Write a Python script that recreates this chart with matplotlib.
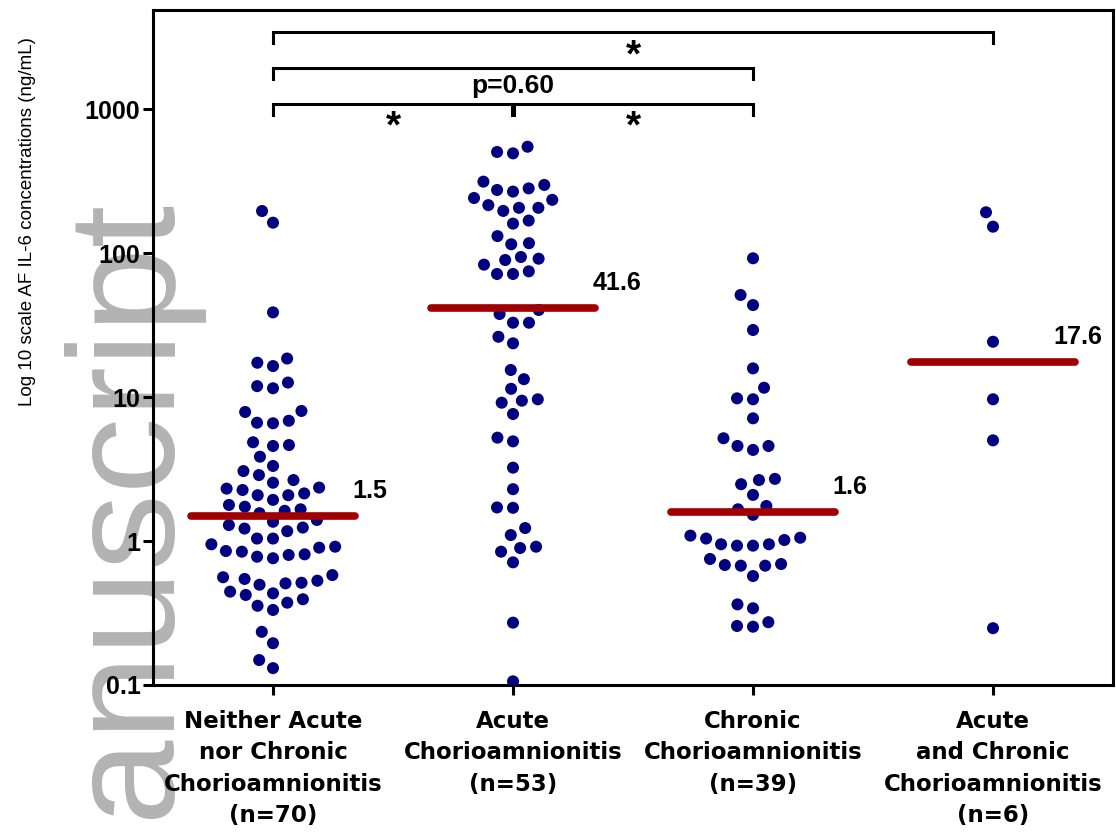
import numpy as np
import matplotlib
matplotlib.use('Agg')
import matplotlib.pyplot as plt
from matplotlib import font_manager

# AF IL-6 (ng/mL), one list per group
neither = [195.7, 162.4, 38.7, 18.5, 16.4, 17.3, 11.9, 11.5, 12.6, 8.0,
           7.87, 6.84, 6.57, 6.63, 4.85, 4.57, 4.64, 3.85, 3.32, 2.87,
           3.06, 2.54, 2.65, 2.31, 2.14, 2.08, 2.08, 2.26, 2.35, 1.93,
           1.78, 1.66, 1.56, 1.62, 1.73, 1.36, 1.40, 1.29, 1.22, 1.17,
           1.24, 1.04, 1.04, 0.949, 0.899, 0.843, 0.80, 0.759, 0.778, 0.808,
           0.852, 0.913, 0.58, 0.545, 0.513, 0.497, 0.445, 0.508, 0.53, 0.56,
           0.422, 0.373, 0.332, 0.355, 0.394, 0.433, 0.234, 0.195, 0.131, 0.149]
acute = [547, 492, 503, 274, 313, 297, 267, 281, 241, 234,
         206, 215, 196, 206, 168, 160, 131, 115, 117, 91.3,
         83, 71.5, 71.5, 74.6, 89.4, 93.8, 37.7, 40.2, 32.8, 32.8,
         26.2, 23.6, 15.4, 13.3, 11.4, 9.43, 9.13, 9.64, 7.62, 5.22,
         4.92, 3.23, 2.29, 1.70, 1.71, 1.23, 1.10, 0.894, 0.843, 0.913,
         0.711, 0.271, 0.106]
chronic = [91.9, 51.1, 43.5, 29.2, 15.8, 11.6, 9.64, 9.79, 7.11, 5.17,
           4.57, 4.29, 4.57, 2.70, 2.48, 2.09, 2.65, 1.75, 1.52, 1.66,
           1.09, 1.04, 0.949, 0.928, 0.928, 0.949, 1.016, 1.054, 0.692, 0.674,
           0.571, 0.674, 0.681, 0.75, 0.363, 0.341, 0.273, 0.254, 0.257]
both = [191.7, 152.3, 24.2, 9.64, 5.0, 0.248]

groups = [neither, acute, chronic, both]
medians = [1.5, 41.6, 1.6, 17.6]
median_labels = ['1.5', '41.6', '1.6', '17.6']
group_labels = ['Neither Acute\nnor Chronic\nChorioamnionitis\n(n=70)',
                'Acute\nChorioamnionitis\n(n=53)',
                'Chronic\nChorioamnionitis\n(n=39)',
                'Acute\nand Chronic\nChorioamnionitis\n(n=6)']
yticks = [0.1, 1, 10, 100, 1000]
ytick_labels = ['0.1', '1', '10', '100', '1000']

# comparisons: (group a, group b, label)
comparisons = [(1, 4, '*'), (1, 3, 'p=0.60'), (1, 2, '*'), (2, 3, '*')]

fig = plt.figure(figsize=(11.16, 8.34), dpi=100)
ax = fig.add_axes([153 / 1116, 149 / 834, 960 / 1116, 675 / 834])
ax.patch.set_alpha(0)

ax.set_yscale('log')
ax.set_ylim(0.1, 4870)
ax.set_xlim(0.5, 4.5)


def swarm(ypix, d):
    # simple beeswarm in pixel space, returns x offsets in pixels
    xs = np.zeros(len(ypix))
    placed = []
    for i in np.argsort(ypix):
        y = ypix[i]
        near = [(px, py) for px, py in placed if abs(py - y) < d]
        cands = [0.0]
        for px, py in near:
            dx = np.sqrt(d * d - (py - y) ** 2)
            cands += [px + dx, px - dx]
        cands.sort(key=lambda c: (abs(c), c))
        for c in cands:
            if all((c - px) ** 2 + (y - py) ** 2 >= d * d - 1e-6 for px, py in near):
                xs[i] = c
                break
        placed.append((xs[i], y))
    return xs


px_per_unit = ax.transData.transform((1, 1))[0] - ax.transData.transform((0, 1))[0]
for k, vals in enumerate(groups):
    pos = k + 1
    vals = np.array(vals)
    ypix = ax.transData.transform(np.column_stack([np.full(len(vals), pos), vals]))[:, 1]
    off = swarm(ypix, 16.0) / px_per_unit
    ax.scatter(pos + off, vals, s=75, color='#000080', edgecolors='none', zorder=3)
    ax.plot([pos - 0.34, pos + 0.34], [medians[k], medians[k]], color='#a00000',
            lw=5.5, solid_capstyle='round', zorder=4)
    dx = 0.33 if pos < 4 else 0.25
    ax.annotate(median_labels[k], (pos + dx, medians[k]), xytext=(0, 18),
                textcoords='offset points', ha='left', va='center',
                fontsize=18, fontweight='bold', family='Liberation Sans')

# significance brackets
trans = ax.get_xaxis_transform()
bracket_y = [0.967, 0.914, 0.861, 0.861]
label_y = [0.931, 0.888, 0.826, 0.826]
for (a, b, lab), yb, yl in zip(comparisons, bracket_y, label_y):
    a2 = a + 0.005 if a == 2 else a
    b2 = b - 0.005 if b == 2 else b
    ax.plot([a2, a2, b2, b2], [yb - 0.016, yb, yb, yb - 0.016], color='black',
            lw=2.2, transform=trans, clip_on=False, solid_joinstyle='miter')
    if lab == '*':
        ax.text((a + b) / 2, yl, lab, transform=trans, ha='center', va='center',
                fontsize=28, fontweight='bold', family='Liberation Sans')
    else:
        ax.text((a + b) / 2, yl, lab, transform=trans, ha='center', va='center',
                fontsize=19, fontweight='bold', family='Liberation Sans')

for sp in ax.spines.values():
    sp.set_linewidth(2.2)
ax.set_yticks(yticks)
ax.set_yticklabels(ytick_labels)
ax.yaxis.set_minor_locator(matplotlib.ticker.NullLocator())
ax.set_xticks([1, 2, 3, 4])
ax.set_xticklabels(group_labels, linespacing=1.47)
ax.tick_params(axis='y', length=7, width=2.2, pad=2, labelsize=18)
ax.tick_params(axis='x', length=7, width=2.2, pad=11, labelsize=16.5)
for t in ax.get_yticklabels():
    t.set_family('Liberation Sans')
    t.set_fontweight('bold')
for t in ax.get_xticklabels():
    t.set_family('DejaVu Sans')
    t.set_fontweight('bold')

# the y title is set in a narrow face in the original
names = {f.name for f in font_manager.fontManager.ttflist}
if 'Liberation Sans Narrow' in names:
    lab_font, lab_size = 'Liberation Sans Narrow', 16.5
else:
    lab_font, lab_size = 'Liberation Sans', 13.5
fig.text(28 / 1116, 1 - 222 / 834, 'Log 10 scale AF IL-6 concentrations (ng/mL)',
         rotation=90, ha='center', va='center', fontsize=lab_size, family=lab_font)

# grey watermark running up the left edge
fig.text(175 / 1116, 1 - 205 / 834, 'Author Manuscript', rotation=90,
         rotation_mode='anchor', ha='right', va='baseline', fontsize=110,
         color='#b3b3b3', family='Liberation Sans', zorder=-1)

fig.savefig('out.png', dpi=100)
